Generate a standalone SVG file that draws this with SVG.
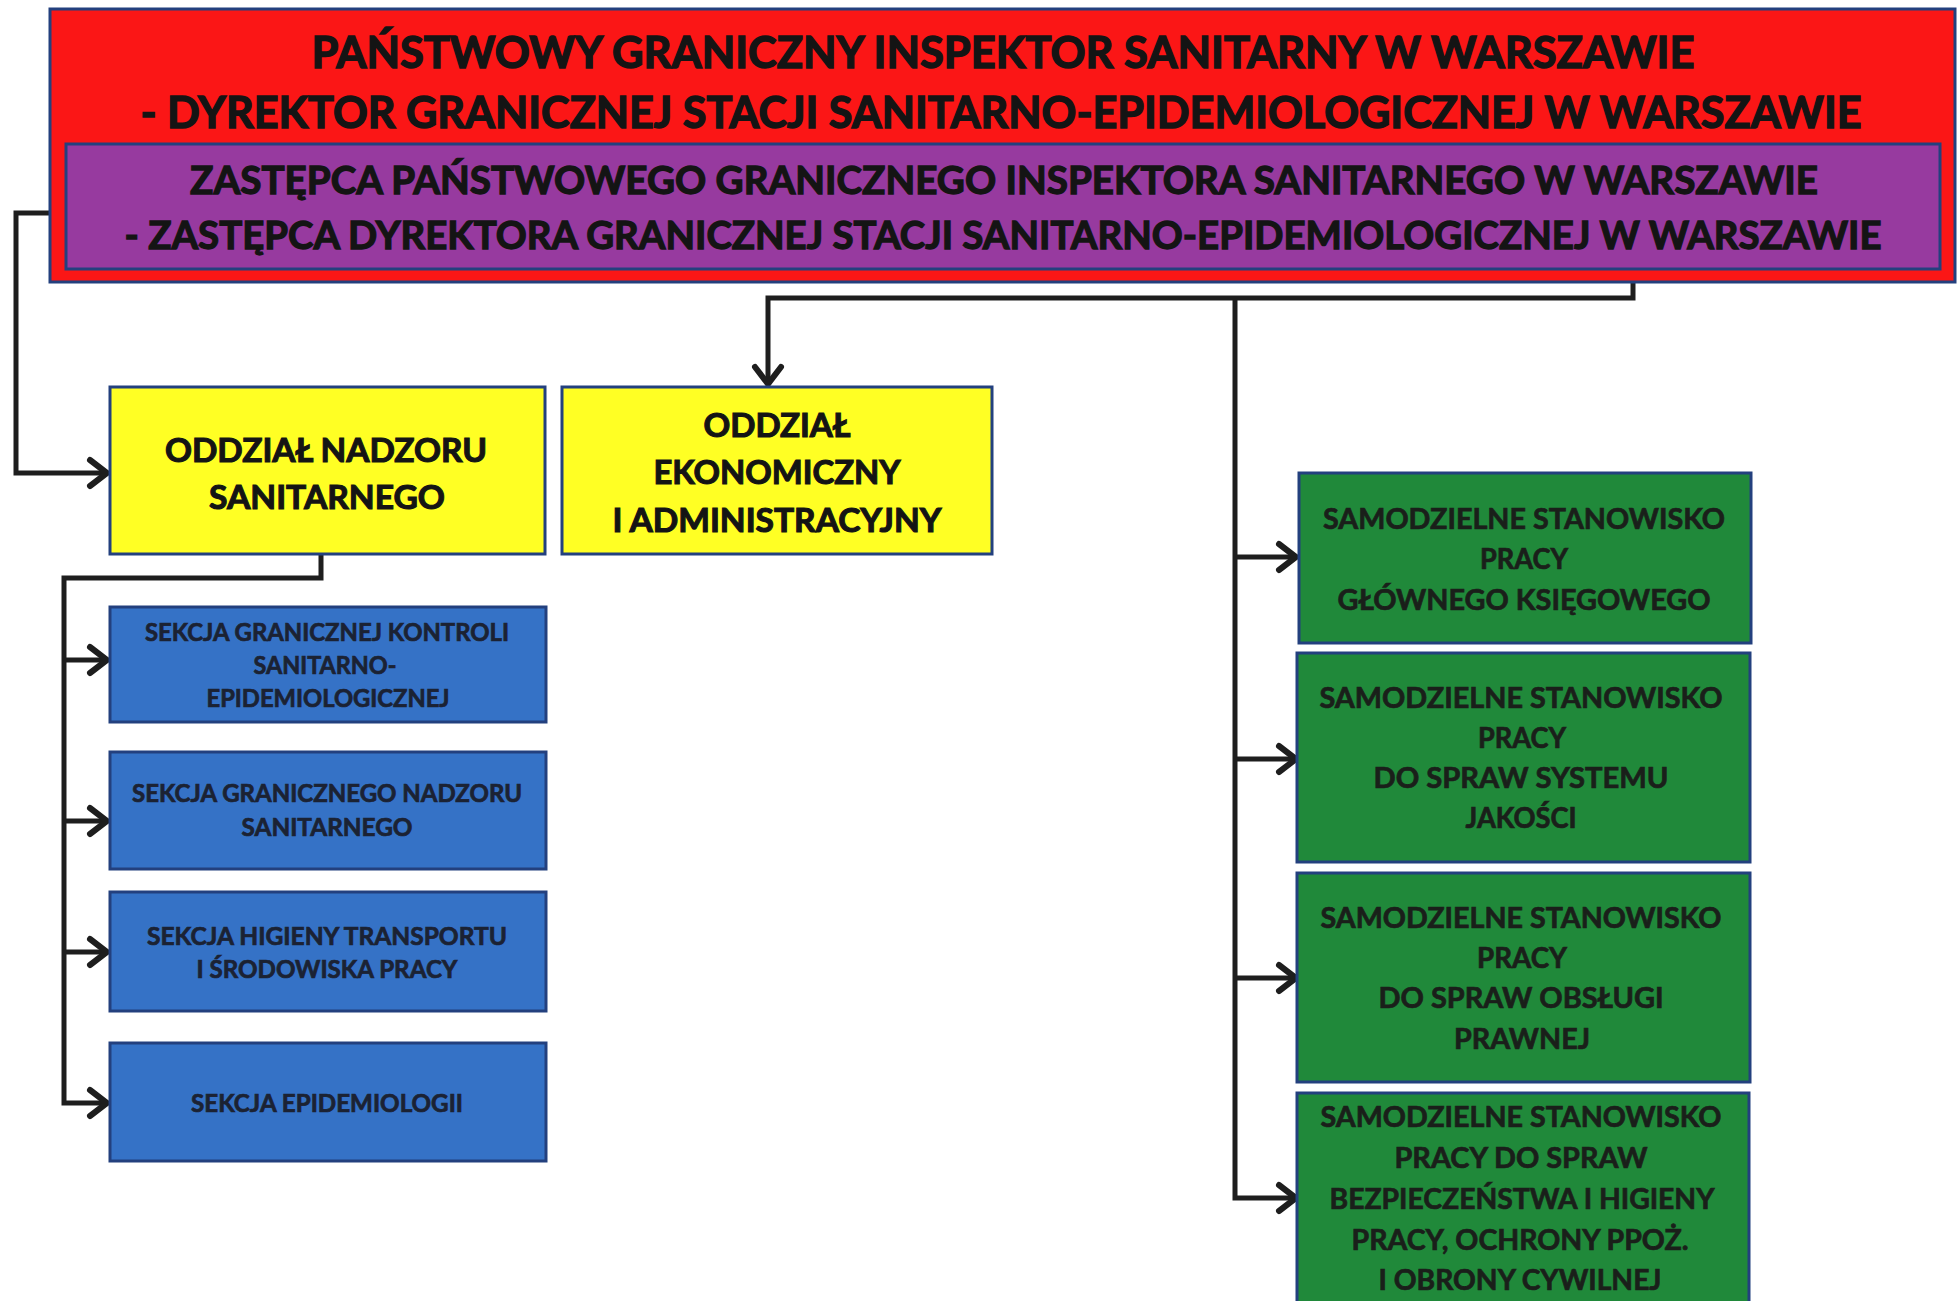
<svg xmlns="http://www.w3.org/2000/svg" width="1959" height="1301" viewBox="0 0 1959 1301">
  <style>
    .box { stroke: #23407e; stroke-width: 3; }
    .red { fill: #fb1616; }
    .purple { fill: #973a9f; }
    .yellow { fill: #ffff24; }
    .blue { fill: #3572c6; }
    .green { fill: #20893a; }
    text { font-family: Lato, "Open Sans", "Liberation Sans", sans-serif; font-weight: bold; text-anchor: middle; fill: #141414; stroke: #141414; stroke-width: 0.9; }
    .t1 { font-size: 43px; stroke-width: 1.4; }
    .t2 { font-size: 39px; stroke-width: 1.3; }
    .ty { font-size: 33px; stroke-width: 1.1; }
    .tb { font-size: 24px; fill: #1b2233; stroke: #1b2233; stroke-width: 0.7; }
    .tg { font-size: 28px; fill: #1a1f1a; stroke: #1a1f1a; stroke-width: 0.7; }
    .conn { fill: none; stroke: #1e1e1e; stroke-width: 5; stroke-linejoin: miter; }
  </style>
  <defs>
    <marker id="arr" markerUnits="userSpaceOnUse" markerWidth="28" markerHeight="34" viewBox="0 0 28 34" refX="24" refY="17" orient="auto">
      <path d="M6,4 L23,17 L6,30" fill="none" stroke="#1e1e1e" stroke-width="6" stroke-linecap="round" stroke-linejoin="miter"/>
    </marker>
  </defs>
  <rect width="1959" height="1301" fill="#ffffff"/>

  <g id="connectors">
    <polyline class="conn" points="50,213 16,213 16,473 108,473" marker-end="url(#arr)"/>
    <polyline class="conn" points="1633,282 1633,298 768,298 768,385" marker-end="url(#arr)"/>
    <polyline class="conn" points="1235,298 1235,1198 1297,1198" marker-end="url(#arr)"/>
    <line class="conn" x1="1235" y1="557" x2="1297" y2="557" marker-end="url(#arr)"/>
    <line class="conn" x1="1235" y1="759" x2="1297" y2="759" marker-end="url(#arr)"/>
    <line class="conn" x1="1235" y1="978" x2="1297" y2="978" marker-end="url(#arr)"/>
    <polyline class="conn" points="321,553 321,578 64,578 64,1103 108,1103" marker-end="url(#arr)"/>
    <line class="conn" x1="64" y1="660" x2="108" y2="660" marker-end="url(#arr)"/>
    <line class="conn" x1="64" y1="821" x2="108" y2="821" marker-end="url(#arr)"/>
    <line class="conn" x1="64" y1="952" x2="108" y2="952" marker-end="url(#arr)"/>
  </g>

  <g id="node-inspektor">
    <rect class="box red" x="50" y="9" width="1905" height="273"/>
    <text class="t1" x="1003" y="68" textLength="1383" lengthAdjust="spacingAndGlyphs">PAŃSTWOWY GRANICZNY INSPEKTOR SANITARNY W WARSZAWIE</text>
    <text class="t1" x="1001" y="128" textLength="1721" lengthAdjust="spacingAndGlyphs">- DYREKTOR GRANICZNEJ STACJI SANITARNO-EPIDEMIOLOGICZNEJ W WARSZAWIE</text>
  </g>

  <g id="node-zastepca">
    <rect class="box purple" x="66" y="144" width="1874" height="125"/>
    <text class="t2" x="1004" y="194" textLength="1628" lengthAdjust="spacingAndGlyphs">ZASTĘPCA PAŃSTWOWEGO GRANICZNEGO INSPEKTORA SANITARNEGO W WARSZAWIE</text>
    <text class="t2" x="1003" y="249" textLength="1757" lengthAdjust="spacingAndGlyphs">- ZASTĘPCA DYREKTORA GRANICZNEJ STACJI SANITARNO-EPIDEMIOLOGICZNEJ W WARSZAWIE</text>
  </g>

  <g id="node-oddzial-nadzoru">
    <rect class="box yellow" x="110" y="387" width="435" height="167"/>
    <text class="ty" x="326" y="462" textLength="322" lengthAdjust="spacingAndGlyphs">ODDZIAŁ NADZORU</text>
    <text class="ty" x="327" y="509" textLength="236" lengthAdjust="spacingAndGlyphs">SANITARNEGO</text>
  </g>

  <g id="node-oddzial-ekonomiczny">
    <rect class="box yellow" x="562" y="387" width="430" height="167"/>
    <text class="ty" x="777" y="437" textLength="147" lengthAdjust="spacingAndGlyphs">ODDZIAŁ</text>
    <text class="ty" x="777" y="484" textLength="247" lengthAdjust="spacingAndGlyphs">EKONOMICZNY</text>
    <text class="ty" x="777" y="532" textLength="329" lengthAdjust="spacingAndGlyphs">I ADMINISTRACYJNY</text>
  </g>

  <g id="node-sekcja-kontroli">
    <rect class="box blue" x="110" y="607" width="436" height="115"/>
    <text class="tb" x="327" y="641" textLength="364" lengthAdjust="spacingAndGlyphs">SEKCJA GRANICZNEJ KONTROLI</text>
    <text class="tb" x="325" y="674" textLength="143" lengthAdjust="spacingAndGlyphs">SANITARNO-</text>
    <text class="tb" x="328" y="707" textLength="243" lengthAdjust="spacingAndGlyphs">EPIDEMIOLOGICZNEJ</text>
  </g>

  <g id="node-sekcja-nadzoru">
    <rect class="box blue" x="110" y="752" width="436" height="117"/>
    <text class="tb" x="327" y="802" textLength="390" lengthAdjust="spacingAndGlyphs">SEKCJA GRANICZNEGO NADZORU</text>
    <text class="tb" x="327" y="836" textLength="171" lengthAdjust="spacingAndGlyphs">SANITARNEGO</text>
  </g>

  <g id="node-sekcja-higieny">
    <rect class="box blue" x="110" y="892" width="436" height="119"/>
    <text class="tb" x="327" y="945" textLength="360" lengthAdjust="spacingAndGlyphs">SEKCJA  HIGIENY TRANSPORTU</text>
    <text class="tb" x="327" y="978" textLength="261" lengthAdjust="spacingAndGlyphs">I ŚRODOWISKA PRACY</text>
  </g>

  <g id="node-sekcja-epidemiologii">
    <rect class="box blue" x="110" y="1043" width="436" height="118"/>
    <text class="tb" x="327" y="1112" textLength="272" lengthAdjust="spacingAndGlyphs">SEKCJA EPIDEMIOLOGII</text>
  </g>

  <g id="node-ksiegowy">
    <rect class="box green" x="1299" y="473" width="452" height="170"/>
    <text class="tg" x="1524" y="529" textLength="402" lengthAdjust="spacingAndGlyphs">SAMODZIELNE STANOWISKO</text>
    <text class="tg" x="1524" y="569" textLength="88" lengthAdjust="spacingAndGlyphs">PRACY</text>
    <text class="tg" x="1524" y="610" textLength="373" lengthAdjust="spacingAndGlyphs">GŁÓWNEGO KSIĘGOWEGO</text>
  </g>

  <g id="node-jakosc">
    <rect class="box green" x="1297" y="653" width="453" height="209"/>
    <text class="tg" x="1521" y="708" textLength="403" lengthAdjust="spacingAndGlyphs">SAMODZIELNE STANOWISKO</text>
    <text class="tg" x="1522" y="748" textLength="88" lengthAdjust="spacingAndGlyphs">PRACY</text>
    <text class="tg" x="1521" y="788" textLength="295" lengthAdjust="spacingAndGlyphs">DO SPRAW SYSTEMU</text>
    <text class="tg" x="1521" y="828" textLength="111" lengthAdjust="spacingAndGlyphs">JAKOŚCI</text>
  </g>

  <g id="node-prawna">
    <rect class="box green" x="1297" y="873" width="453" height="209"/>
    <text class="tg" x="1521" y="928" textLength="401" lengthAdjust="spacingAndGlyphs">SAMODZIELNE STANOWISKO</text>
    <text class="tg" x="1522" y="968" textLength="90" lengthAdjust="spacingAndGlyphs">PRACY</text>
    <text class="tg" x="1521" y="1008" textLength="285" lengthAdjust="spacingAndGlyphs">DO SPRAW OBSŁUGI</text>
    <text class="tg" x="1522" y="1049" textLength="136" lengthAdjust="spacingAndGlyphs">PRAWNEJ</text>
  </g>

  <g id="node-bhp">
    <rect class="box green" x="1297" y="1093" width="452" height="220"/>
    <text class="tg" x="1521" y="1127" textLength="401" lengthAdjust="spacingAndGlyphs">SAMODZIELNE STANOWISKO</text>
    <text class="tg" x="1521" y="1168" textLength="253" lengthAdjust="spacingAndGlyphs">PRACY DO SPRAW</text>
    <text class="tg" x="1522" y="1209" textLength="385" lengthAdjust="spacingAndGlyphs">BEZPIECZEŃSTWA I HIGIENY</text>
    <text class="tg" x="1520" y="1250" textLength="337" lengthAdjust="spacingAndGlyphs">PRACY, OCHRONY PPOŻ.</text>
    <text class="tg" x="1520" y="1290" textLength="283" lengthAdjust="spacingAndGlyphs">I OBRONY CYWILNEJ</text>
  </g>
</svg>
